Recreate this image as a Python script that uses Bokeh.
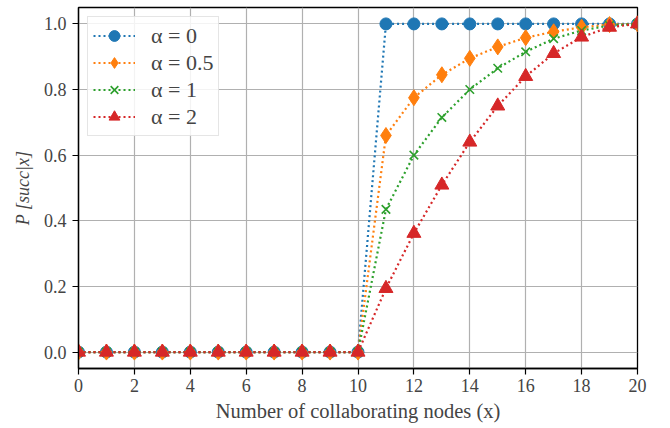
from bokeh.plotting import figure
from bokeh.models import Range1d, FixedTicker, Legend, LegendItem, NumeralTickFormatter
from bokeh.embed import file_html
from bokeh.resources import INLINE

x_nodes = [0, 1, 2, 3, 4, 5, 6, 7, 8, 9, 10, 11, 12, 13, 14, 15, 16, 17, 18, 19, 20]
p_alpha0 = [0, 0, 0, 0, 0, 0, 0, 0, 0, 0, 0, 1.0, 1.0, 1.0, 1.0, 1.0, 1.0, 1.0, 1.0, 1.0, 1.0]
p_alpha05 = [0, 0, 0, 0, 0, 0, 0, 0, 0, 0, 0, 0.66, 0.775, 0.845, 0.895, 0.93, 0.958, 0.976, 0.99, 0.998, 1.0]
p_alpha1 = [0, 0, 0, 0, 0, 0, 0, 0, 0, 0, 0, 0.435, 0.60, 0.715, 0.80, 0.865, 0.915, 0.955, 0.98, 0.995, 1.0]
p_alpha2 = [0, 0, 0, 0, 0, 0, 0, 0, 0, 0, 0, 0.194, 0.362, 0.509, 0.64, 0.75, 0.84, 0.91, 0.96, 0.99, 1.0]

series_labels = ["α = 0", "α = 0.5", "α = 1", "α = 2"]
series_values = [p_alpha0, p_alpha05, p_alpha1, p_alpha2]
series_colors = ["#1f77b4", "#ff7f0e", "#2ca02c", "#d62728"]
series_markers = ["circle", "diamond", "x", "triangle"]
marker_sizes = [12, 16, 12, 14]

x_ticks = [0, 2, 4, 6, 8, 10, 12, 14, 16, 18, 20]
y_ticks = [0.0, 0.2, 0.4, 0.6, 0.8, 1.0]

FONT = "Liberation Serif"

p = figure(width=650, height=424, output_backend="svg", toolbar_location=None,
           x_range=Range1d(0, 20), y_range=Range1d(-0.05, 1.05),
           min_border_left=78, min_border_right=13, min_border_top=7, min_border_bottom=55)

p.outline_line_color = "black"
p.outline_line_width = 1.3
p.outline_line_alpha = 1

items = []
for lab, vals, col, mk, ms in zip(series_labels, series_values, series_colors, series_markers, marker_sizes):
    r1 = p.line(x_nodes, vals, line_color=col, line_width=2.2, line_dash="2 3")
    if mk == "x":
        r2 = p.scatter(x_nodes, vals, marker=mk, size=ms, line_color=col, line_width=1.6)
    else:
        r2 = p.scatter(x_nodes, vals, marker=mk, size=ms, fill_color=col, line_color=col)
    items.append(LegendItem(label=lab, renderers=[r1, r2]))

legend = Legend(items=items, location="top_left")
legend.label_text_font = FONT
legend.label_text_font_size = "22px"
legend.border_line_color = "#cccccc"
legend.border_line_width = 1.2
legend.background_fill_alpha = 0.85
legend.glyph_width = 42
legend.glyph_height = 27
legend.label_height = 27
legend.spacing = 0
legend.padding = 5
legend.margin = 9
legend.label_standoff = 16
p.add_layout(legend)

for ax in (p.xaxis[0], p.yaxis[0]):
    ax.major_label_text_font = FONT
    ax.major_label_text_font_size = "18px"
    ax.axis_label_text_font = FONT
    ax.axis_label_text_font_size = "20.5px"
    ax.axis_label_text_font_style = "normal"
    ax.major_tick_in = 0
    ax.major_tick_out = 6
    ax.minor_tick_in = 0
    ax.minor_tick_out = 0
    ax.axis_line_color = "black"
    ax.axis_line_width = 1.3
    ax.major_tick_line_color = "black"
    ax.major_tick_line_width = 1.2

p.xaxis.ticker = FixedTicker(ticks=x_ticks)
p.yaxis.ticker = FixedTicker(ticks=y_ticks)
p.yaxis.formatter = NumeralTickFormatter(format="0.0")
p.xaxis.axis_label = "Number of collaborating nodes (x)"
p.yaxis.axis_label = "P [succ|x]"
p.yaxis.axis_label_text_font_style = "italic"
p.yaxis.axis_label_text_font_size = "18px"
p.xaxis.major_label_standoff = 4
p.xaxis.axis_label_standoff = 5
p.yaxis.major_label_standoff = 6
p.yaxis.axis_label_standoff = 8

p.xgrid.grid_line_color = "#b0b0b0"
p.ygrid.grid_line_color = "#b0b0b0"
p.xgrid.grid_line_width = 1.2
p.ygrid.grid_line_width = 1.2

open("out.html", "w").write(file_html(p, INLINE))
